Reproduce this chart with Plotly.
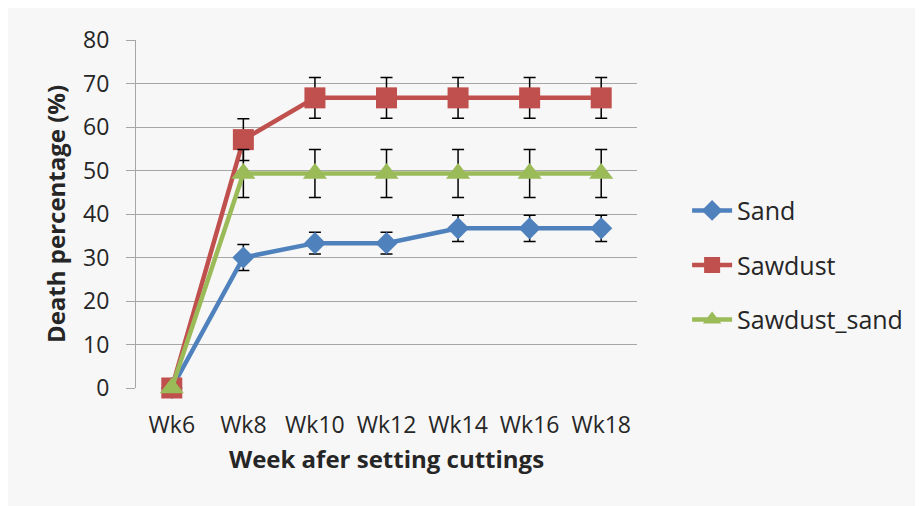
import plotly.graph_objects as go

weeks = ["Wk6", "Wk8", "Wk10", "Wk12", "Wk14", "Wk16", "Wk18"]
sand = [0, 30.0, 33.3, 33.3, 36.7, 36.7, 36.7]
sand_err = [0, 3.0, 2.5, 2.5, 3.0, 3.0, 3.0]
sawdust = [0, 57.1, 66.7, 66.7, 66.7, 66.7, 66.7]
sawdust_err = [0, 4.8, 4.7, 4.7, 4.7, 4.7, 4.7]
sawdust_sand = [0, 49.3, 49.3, 49.3, 49.3, 49.3, 49.3]
sawdust_sand_err = [0, 5.5, 5.5, 5.5, 5.5, 5.5, 5.5]

FONT = "Open Sans"
TXT = "#262626"
FS_TICK = 23
FS_TITLE = 24
FS_LEG = 25

series = [
    ("Sand", sand, sand_err, "#4F81BD", "diamond", 17),
    ("Sawdust", sawdust, sawdust_err, "#C0504D", "square", 21),
    ("Sawdust_sand", sawdust_sand, sawdust_sand_err, "#9BBB59", "triangle-up", 21),
]

fig = go.Figure()
for name, vals, errs, col, sym, size in series:
    fig.add_trace(go.Scatter(
        x=weeks, y=vals, name=name, mode="lines+markers",
        legendgroup=name,
        line=dict(color=col, width=4.5),
        marker=dict(color=col, symbol=sym, size=size),
        error_y=dict(type="data", array=errs, color="#000000", thickness=1.5, width=6, visible=True),
        cliponaxis=False,
    ))

fig.update_layout(
    width=923, height=506,
    margin=dict(l=128, r=294, t=32, b=126),
    paper_bgcolor="#f7f7f7",
    plot_bgcolor="rgba(0,0,0,0)",
    font=dict(family=FONT, color=TXT, size=FS_TICK),
    showlegend=True,
    legend=dict(x=1.10, y=0.353, yanchor="middle", xanchor="left",
                font=dict(size=FS_LEG, color=TXT), bgcolor="rgba(0,0,0,0)",
                traceorder="grouped", tracegroupgap=19, itemwidth=40),
)
fig.update_xaxes(
    type="category", range=[-0.5, 6.5], showgrid=False, zeroline=False,
    showline=False, ticks="", tickfont=dict(size=FS_TICK, color=TXT),
    ticklabelstandoff=21,
    title=dict(text="<b>Week afer setting cuttings</b>", font=dict(size=FS_TITLE, color=TXT), standoff=12),
)
fig.update_yaxes(
    range=[0, 80], dtick=10, showgrid=True, gridcolor="#a6a6a6", gridwidth=1,
    zeroline=False, showline=True, linecolor="#a6a6a6", linewidth=1,
    ticks="outside", ticklen=9, tickcolor="#a6a6a6",
    tickfont=dict(size=FS_TICK, color=TXT), ticklabelstandoff=12,
    title=dict(text="<b>Death percentage (%)</b>", font=dict(size=FS_TITLE, color=TXT), standoff=10),
)

fig.write_html("out.html")
